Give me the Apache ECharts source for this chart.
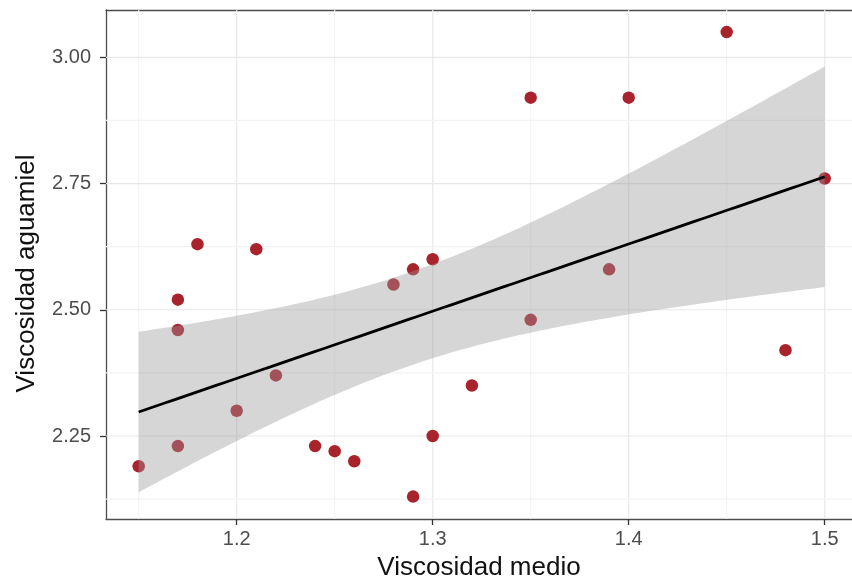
<!DOCTYPE html>
<html>
<head>
<meta charset="utf-8">
<script src="https://cdn.jsdelivr.net/npm/echarts@6/dist/echarts.min.js"></script>
<style>
html,body{margin:0;padding:0;background:#fff;}
#chart{width:852px;height:580px;}
</style>
</head>
<body>
<div id="chart"></div>
<script>
// ---- data ----
const xValues = [1.18, 1.21, 1.17, 1.17, 1.22, 1.20, 1.17, 1.15,
                 1.35, 1.30, 1.29, 1.28, 1.35, 1.32, 1.30,
                 1.24, 1.25, 1.26, 1.29,
                 1.45, 1.40, 1.50, 1.39, 1.48];
const yValues = [2.63, 2.62, 2.52, 2.46, 2.37, 2.30, 2.23, 2.19,
                 2.92, 2.60, 2.58, 2.55, 2.48, 2.35, 2.25,
                 2.23, 2.22, 2.20, 2.13,
                 3.05, 2.92, 2.76, 2.58, 2.42];
const xTicks = [1.2, 1.3, 1.4, 1.5];
const xMinor = [1.15, 1.25, 1.35, 1.45];
const yTicks = [2.25, 2.50, 2.75, 3.00];
const yMinor = [2.125, 2.375, 2.625, 2.875];
const xTitle = 'Viscosidad medio';
const yTitle = 'Viscosidad aguamiel';

// ---- linear fit with 95% confidence band (as geom_smooth(method = "lm")) ----
const n = xValues.length;
const mx = xValues.reduce((s, v) => s + v, 0) / n;
const my = yValues.reduce((s, v) => s + v, 0) / n;
let sxx = 0, sxy = 0;
for (let i = 0; i < n; i++) { sxx += (xValues[i] - mx) ** 2; sxy += (xValues[i] - mx) * (yValues[i] - my); }
const slope = sxy / sxx, intercept = my - slope * mx;
let sse = 0;
for (let i = 0; i < n; i++) { sse += (yValues[i] - intercept - slope * xValues[i]) ** 2; }
const sRes = Math.sqrt(sse / (n - 2));
const tQ = 2.0739; // t(0.975, df = 22)
const xLo = Math.min(...xValues), xHi = Math.max(...xValues);
const fitLine = [], upper = [], lower = [];
for (let k = 0; k < 80; k++) {
  const x = xLo + (xHi - xLo) * k / 79;
  const yh = intercept + slope * x;
  const se = sRes * Math.sqrt(1 / n + (x - mx) ** 2 / sxx);
  fitLine.push([x, yh]);
  upper.push([x, yh + tQ * se]);
  lower.push([x, yh - tQ * se]);
}

const points = xValues.map((x, i) => [x, yValues[i]]);
const gridLines = [
  ...xTicks.map(v => [v, 0, 1]), ...xMinor.map(v => [v, 0, 0]),
  ...yTicks.map(v => [0, v, 3]), ...yMinor.map(v => [0, v, 2])
];

const FONT = '"Liberation Sans", Arial, Helvetica, sans-serif';
const X_MIN = 1.13332, X_MAX = 1.51393;
const chart = echarts.init(document.getElementById('chart'), null, { renderer: 'canvas' });

chart.setOption({
  animation: false,
  backgroundColor: '#ffffff',
  grid: { left: 106, top: 10, right: 0, bottom: 61, show: false, outerBoundsMode: 'none' },
  xAxis: [{
    type: 'value', min: X_MIN, max: X_MAX,
    name: xTitle, nameLocation: 'middle', nameGap: 36,
    nameTextStyle: { fontSize: 26, color: '#111', fontFamily: FONT },
    axisLine: { show: true, onZero: false, lineStyle: { color: '#4d4d4d', width: 1.3 } },
    axisTick: { show: true, length: 6, customValues: xTicks, lineStyle: { color: '#333', width: 1.3 } },
    axisLabel: { customValues: xTicks, margin: 10, fontSize: 20, color: '#4d4d4d', fontFamily: FONT,
                 formatter: v => v.toFixed(1) },
    splitLine: { show: false }
  }, {
    type: 'value', position: 'top', min: X_MIN, max: X_MAX,
    axisLine: { show: true, onZero: false, lineStyle: { color: '#4d4d4d', width: 1.3 } },
    axisTick: { show: false }, axisLabel: { show: false }, splitLine: { show: false }
  }],
  yAxis: {
    type: 'value', min: 2.0856, max: 3.0937,
    name: yTitle, nameLocation: 'middle', nameGap: 66,
    nameTextStyle: { fontSize: 26, color: '#111', fontFamily: FONT, padding: [0, 18, 0, 0] },
    axisLine: { show: true, onZero: false, lineStyle: { color: '#4d4d4d', width: 1.3 } },
    axisTick: { show: true, length: 6, customValues: yTicks, lineStyle: { color: '#333', width: 1.3 } },
    axisLabel: { customValues: yTicks, margin: 15, fontSize: 20, color: '#4d4d4d', fontFamily: FONT,
                 formatter: v => v.toFixed(2) },
    splitLine: { show: false }
  },
  series: [
    {
      type: 'custom', name: 'grid', silent: true, z: 1,
      data: gridLines,
      renderItem: function (params, api) {
        const cs = params.coordSys;
        const kind = api.value(2);
        const color = (kind === 1 || kind === 3) ? '#e8e8e8' : '#f3f3f3';
        let shape;
        if (kind < 2) {
          const px = api.coord([api.value(0), 2.5])[0];
          shape = { x1: px, y1: cs.y, x2: px, y2: cs.y + cs.height };
        } else {
          const py = api.coord([1.3, api.value(1)])[1];
          shape = { x1: cs.x, y1: py, x2: cs.x + cs.width, y2: py };
        }
        return { type: 'line', shape: shape, style: { stroke: color, lineWidth: 1.2 } };
      }
    },
    {
      type: 'scatter', name: 'puntos', z: 3,
      data: points,
      symbol: 'circle', symbolSize: 12.5,
      itemStyle: { color: '#a9232d', opacity: 1 }
    },
    {
      type: 'custom', name: 'banda', silent: true, z: 4,
      data: [[xLo, intercept + slope * xLo]],
      renderItem: function (params, api) {
        const pts = upper.map(p => api.coord(p)).concat(lower.slice().reverse().map(p => api.coord(p)));
        return { type: 'polygon', shape: { points: pts }, style: { fill: 'rgba(153,153,153,0.4)' } };
      }
    },
    {
      type: 'line', name: 'ajuste', z: 5,
      data: fitLine, showSymbol: false, symbol: 'none',
      lineStyle: { color: '#000', width: 2.8 }
    }
  ]
});
</script>
</body>
</html>
